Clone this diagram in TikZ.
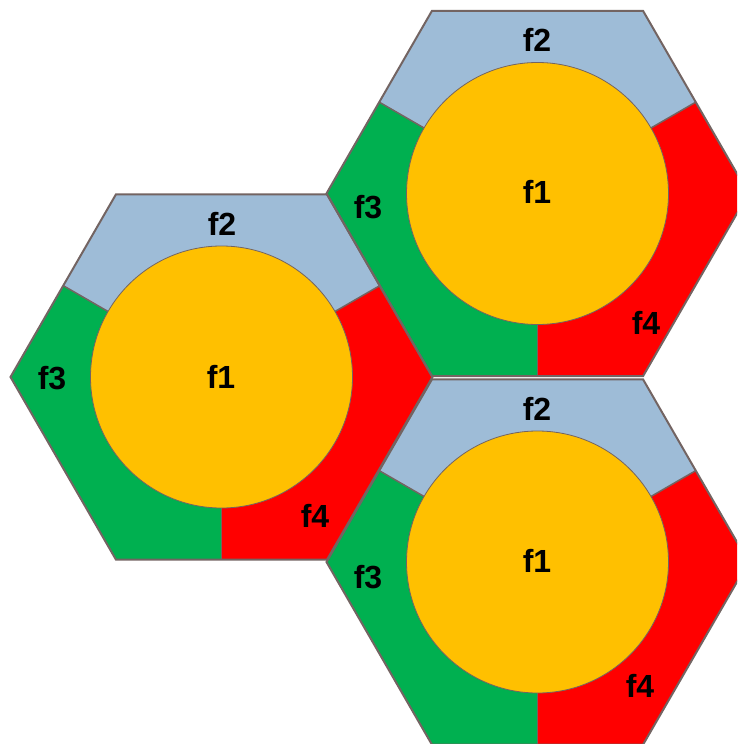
\documentclass[tikz,border=0pt]{standalone}
\usepackage{fontspec}
\setmainfont{Liberation Sans}
\definecolor{hexline}{RGB}{115,100,98}
\definecolor{fblue}{RGB}{158,188,215}
\definecolor{fgreen}{RGB}{0,176,80}
\definecolor{fred}{RGB}{255,0,0}
\definecolor{fyellow}{RGB}{255,192,0}
\tikzset{
  hexedge/.style={draw=hexline, line width=2pt, line join=miter},
  divider/.style={draw=hexline, line width=1.5pt},
  core/.style={fill=fyellow, draw=hexline, line width=0.8pt},
  lbl/.style={font=\fontsize{32}{38}\selectfont\bfseries, inner sep=0pt, anchor=center}
}
\newcommand{\hR}{211}
\newcommand{\hM}{182.7}
\newcommand{\cellfill}[2]{%
  \begin{scope}[shift={(#1,#2)}]
    \fill[fblue] (0,0) -- (-30:\hM) -- (-60:\hR) -- (-120:\hR) -- (-150:\hM) -- cycle;
    \fill[fgreen] (0,0) -- (-150:\hM) -- (-180:\hR) -- (-240:\hR) -- (-270:\hM) -- cycle;
    \fill[fred] (0,0) -- (-270:\hM) -- (-300:\hR) -- (0:\hR) -- (-30:\hM) -- cycle;
    \draw[divider] (0,0) -- (-30:\hM);
    \draw[divider] (0,0) -- (-150:\hM);
    \draw[divider] (0,0) -- (-270:\hM);
    \draw[core] (0,0) circle[radius=131];
  \end{scope}}
\newcommand{\celledge}[2]{%
  \begin{scope}[shift={(#1,#2)}]
    \draw[hexedge] (0:\hR) -- (-60:\hR) -- (-120:\hR) -- (-180:\hR) -- (-240:\hR) -- (-300:\hR) -- cycle;
  \end{scope}}
\begin{document}
\begin{tikzpicture}[x=1pt,y=-1pt]
  \useasboundingbox (0,0) rectangle (737,744);
  \clip (0,0) rectangle (737,744);
  \cellfill{221.5}{377}
  \cellfill{537.5}{193.5}
  \cellfill{537.5}{562}
  \celledge{221.5}{377}
  \celledge{537.5}{193.5}
  \celledge{537.5}{562}
  % left cell
  \node[lbl] (af1) at (221,377) {f1};
  \node[lbl] (af2) at (222,224) {f2};
  \node[lbl] (af3) at (52,378) {f3};
  \node[lbl] (af4) at (315,516) {f4};
  % top-right cell
  \node[lbl] (bf1) at (537,192) {f1};
  \node[lbl] (bf2) at (537,40) {f2};
  \node[lbl] (bf3) at (368,207) {f3};
  \node[lbl] (bf4) at (646,323) {f4};
  % bottom-right cell
  \node[lbl] (cf1) at (537,561) {f1};
  \node[lbl] (cf2) at (537,409) {f2};
  \node[lbl] (cf3) at (368,577) {f3};
  \node[lbl] (cf4) at (640,686) {f4};
\end{tikzpicture}
\end{document}
